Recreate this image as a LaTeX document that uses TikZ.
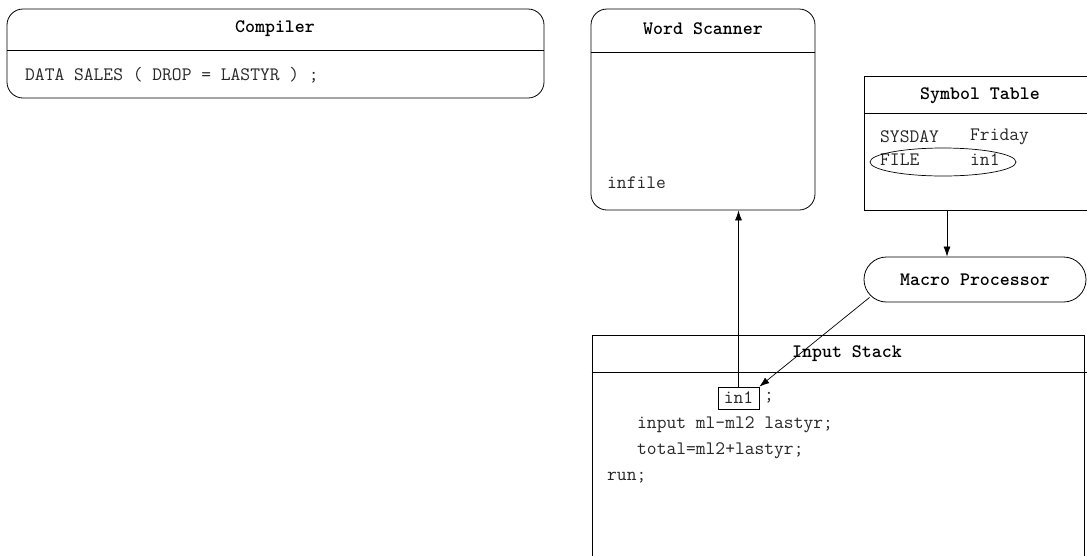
\documentclass[tikz,border=0pt]{standalone}
\usepackage{fontspec}
\usetikzlibrary{shapes.geometric,arrows.meta}

\tikzset{
	panel/.style = {draw, line width=0.8pt, inner sep=0pt},
	head/.style = {font=\fontsize{19}{21}\selectfont\ttfamily\bfseries, inner sep=0pt},
	code/.style = {font=\fontsize{19}{21}\selectfont\ttfamily, text=black!85, anchor=west, inner sep=0pt},
	flow/.style = {line width=0.7pt, -{Latex[length=10pt,width=7pt]}}
}

\begin{document}
\begin{tikzpicture}[x=1pt, y=-1pt]
	\useasboundingbox (0,0) rectangle (1087,555);
	
	% compiler
	\node[panel, rounded corners=16pt, minimum width=537pt, minimum height=89pt] (compiler) at (275.5,53.5) {};
	\draw[line width=0.8pt] (compiler.west |- 0,50) -- (compiler.east |- 0,50);
	\node[head] (compilerhead) at (275,29) {Compiler};
	\node[code] (datastep) at (25,75) {DATA SALES ( DROP = LASTYR ) ;};
	
	% word scanner
	\node[panel, rounded corners=16pt, minimum width=224pt, minimum height=201pt] (scanner) at (703,109.5) {};
	\draw[line width=0.8pt] (scanner.west |- 0,52) -- (scanner.east |- 0,52);
	\node[head] (scannerhead) at (703,29) {Word Scanner};
	\node[code] (infile) at (607,183) {infile};
	
	% symbol table
	\node[panel, minimum width=231pt, minimum height=134pt] (symtab) at (979.5,143) {};
	\draw[line width=0.8pt] (symtab.west |- 0,113) -- (symtab.east |- 0,113);
	\node[head] (symtabhead) at (980,96) {Symbol Table};
	\node[code] (sysday) at (880,137) {SYSDAY};
	\node[code] (friday) at (970,137) {Friday};
	\node[code] (filevar) at (880,160) {FILE};
	\node[code] (fileval) at (970,160) {in1};
	\node[draw, ellipse, line width=0.7pt, minimum width=146pt, minimum height=28pt] (fileentry) at (943,162) {};
	
	% macro processor
	\node[panel, rounded corners=22.5pt, minimum width=222pt, minimum height=45pt] (macro) at (975,279.5) {};
	\node[head] (macrohead) at (975,280) {Macro Processor};
	
	% input stack
	\node[panel, minimum width=492pt, minimum height=230pt] (stack) at (838,450) {};
	\draw[line width=0.8pt] (stack.west |- 0,372) -- (1087,372);
	\node[head] (stackhead) at (847,354) {Input Stack};
	\node[panel, line width=0.7pt, minimum width=41pt, minimum height=22pt] (in1box) at (738.5,398) {};
	\node[code, anchor=center] (in1) at (738.5,398) {in1};
	\node[code] (semi) at (764,398) {;};
	\node[code] (inputline) at (637,425) {input ml-ml2 lastyr;};
	\node[code] (totalline) at (637,451) {total=ml2+lastyr;};
	\node[code] (runline) at (607,478) {run;};
	
	% flow
	\draw[flow] (symtab.south -| 947,0) -- (macro.north -| 947,0);
	\draw[flow] (macro.south west) ++(6,-5) coordinate (macroout) (macroout) -- (in1box.north east);
	\draw[flow] (in1box.north) -- (scanner.south -| in1box.north);
	
\end{tikzpicture}
\end{document}
